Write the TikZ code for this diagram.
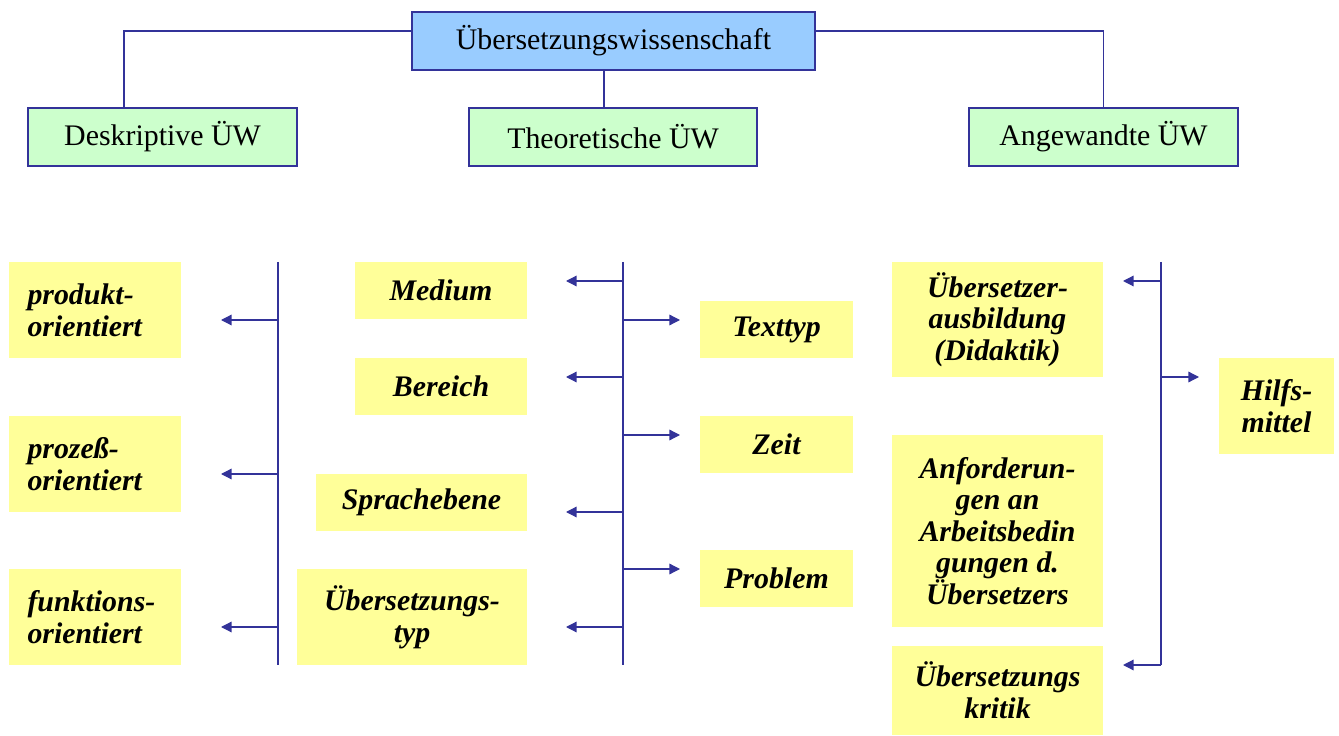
\documentclass[tikz,border=0pt]{standalone}
\usepackage{fontspec}
\setmainfont{Liberation Serif}
\usetikzlibrary{arrows.meta,calc}
\definecolor{rand}{HTML}{333399}
\definecolor{blau}{HTML}{99CCFF}
\definecolor{gruen}{HTML}{CCFFCC}
\definecolor{gelb}{HTML}{FFFF99}

\begin{document}
\begin{tikzpicture}[x=0.02cm,y=-0.02cm,
  kasten/.style={draw=rand,line width=1.2pt,inner sep=0pt,minimum height=1.16cm,font=\fontsize{17}{20}\selectfont},
  feld/.style={fill=gelb,align=center,inner sep=0pt,font=\fontsize{17}{18}\selectfont\bfseries\itshape},
  linie/.style={draw=rand,line width=0.7pt},
  pfeil/.style={linie,-{Triangle[length=6pt,width=6pt]}}]
\useasboundingbox (0,0) rectangle (1339,736);
% obere Ebene
\node[kasten,fill=blau,minimum width=8.06cm] (uew) at (613.5,41) {Übersetzungswissenschaft};
\node[kasten,fill=gruen,minimum width=5.38cm] (desk) at (162.5,137) {Deskriptive ÜW};
\node[kasten,fill=gruen,minimum width=5.76cm] (theo) at (613,137) {Theoretische ÜW};
\node[kasten,fill=gruen,minimum width=5.38cm] (ang) at (1103.5,137) {Angewandte ÜW};
\draw[linie] ($(uew.west)+(0,-10)$) -| ($(desk.north)+(-38.5,0)$);
\draw[linie] ($(uew.east)+(0,-10)$) -| (ang.north);
\draw[linie] ($(uew.south)+(-9.5,0)$) -- ($(theo.north)+(-9,0)$);

% deskriptiv
\node[feld,align=left,text width=2.7cm,minimum width=3.44cm,minimum height=1.92cm] (prod) at (95,310) {produkt-\\orientiert};
\node[feld,align=left,text width=2.7cm,minimum width=3.44cm,minimum height=1.92cm] (proz) at (95,464) {prozeß-\\orientiert};
\node[feld,align=left,text width=2.7cm,minimum width=3.44cm,minimum height=1.92cm] (funk) at (95,617) {funktions-\\orientiert};

% theoretisch
\node[feld,minimum width=3.44cm,minimum height=1.14cm] (med) at (441,290.5) {Medium};
\node[feld,minimum width=3.44cm,minimum height=1.14cm] (ber) at (441,386.5) {Bereich};
\node[feld,minimum width=4.22cm,minimum height=1.14cm] (spr) at (421.5,502.5) {Sprachebene};
\node[feld,minimum width=4.6cm,minimum height=1.92cm] (typ) at (412,617) {Übersetzungs-\\typ};
\node[feld,minimum width=3.06cm,minimum height=1.14cm] (text) at (776.5,329.5) {Texttyp};
\node[feld,minimum width=3.06cm,minimum height=1.14cm] (zeit) at (776.5,444.5) {Zeit};
\node[feld,minimum width=3.06cm,minimum height=1.14cm] (prob) at (776.5,578.5) {Problem};

% angewandt
\node[feld,minimum width=4.22cm,minimum height=2.3cm] (ausb) at (997.5,319.5) {Übersetzer-\\ausbildung\\(Didaktik)};
\node[feld,minimum width=4.22cm,minimum height=3.84cm] (anf) at (997.5,531) {Anforderun-\\gen an\\Arbeitsbedin\\gungen d.\\Übersetzers};
\node[feld,minimum width=4.22cm,minimum height=1.78cm] (krit) at (997.5,690.5) {Übersetzungs\\kritik};
\node[feld,minimum width=2.3cm,minimum height=1.92cm] (hilf) at (1276.5,406) {Hilfs-\\mittel};

% Stämme
\coordinate (da) at (278,262); \coordinate (db) at (278,665);
\coordinate (ta) at (623,262); \coordinate (tb) at (623,665);
\coordinate (aa) at (1161,262); \coordinate (ab) at (1161,665);
\draw[linie] (da) -- (db);
\draw[linie] (ta) -- (tb);
\draw[linie] (aa) -- (ab);

% Pfeilenden
\foreach \n/\y in {1/320,2/474,3/627}
  \coordinate (d\n) at (221,\y);
\foreach \n/\y in {1/281,2/377,3/512,4/627}
  \coordinate (tl\n) at (566,\y);
\foreach \n/\y in {1/320,2/435,3/569}
  \coordinate (tr\n) at (680,\y);
\coordinate (al1) at (1123,281);
\coordinate (al2) at (1123,665);
\coordinate (ar1) at (1199,377);

\foreach \c in {d1,d2,d3}
  \draw[pfeil] (da |- \c) -- (\c);
\foreach \c in {tl1,tl2,tl3,tl4,tr1,tr2,tr3}
  \draw[pfeil] (ta |- \c) -- (\c);
\foreach \c in {al1,al2,ar1}
  \draw[pfeil] (aa |- \c) -- (\c);
\end{tikzpicture}
\end{document}
